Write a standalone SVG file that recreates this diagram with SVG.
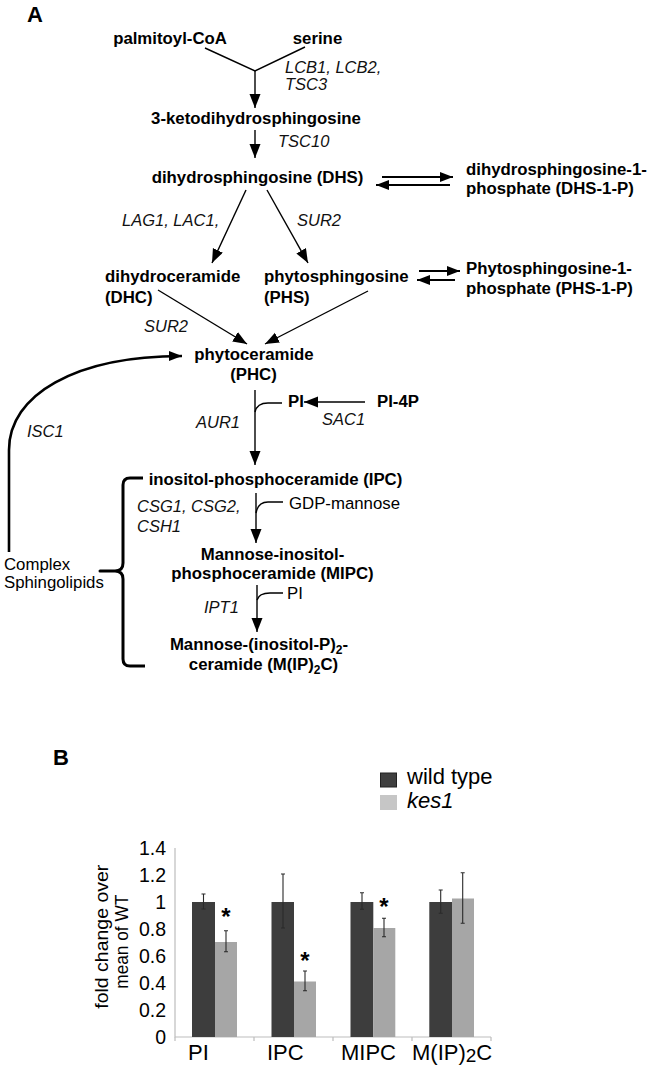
<svg xmlns="http://www.w3.org/2000/svg" width="652" height="1067" viewBox="0 0 652 1067">
<defs>
<style>
text{font-family:"Liberation Sans",Arial,Helvetica,sans-serif;fill:#000}
.b{font-weight:bold;font-size:16.8px}
.i{font-style:italic;font-size:16.5px;fill:#111}
.r{font-size:16.8px}
.hd{font-weight:bold;font-size:22px}
.ln{fill:none;stroke:#000;stroke-width:1.4}
.th{fill:none;stroke:#000;stroke-width:2}
.tick{font-size:19.5px;text-anchor:end}
.xl{font-size:22px}
.ast{font-weight:bold;font-size:24px;text-anchor:middle}
.eb{stroke:#2a2a2a;stroke-width:1.1;fill:none}
.wt{fill:#3d3d3d}
.ko{fill:#a6a6a6}
</style>
<marker id="ah" markerUnits="userSpaceOnUse" markerWidth="15" markerHeight="12" refX="14" refY="5.5" orient="auto">
<path d="M0,0 L14,5.5 L0,11 z" fill="#000"/>
</marker>
<marker id="ahs" markerUnits="userSpaceOnUse" markerWidth="14" markerHeight="11" refX="13" refY="5" orient="auto">
<path d="M0,0 L13,5 L0,10 z" fill="#000"/>
</marker>
</defs>
<rect width="652" height="1067" fill="#fff"/>

<text class="hd" x="27" y="22">A</text>

<g id="connectors">
<path class="ln" d="M205,48 L255,71 L305,47"/>
<path class="ln" d="M255,71 V108" marker-end="url(#ah)"/>
<path class="ln" d="M255,130 V158" marker-end="url(#ah)"/>
<path class="th" d="M382,177 H453" marker-end="url(#ahs)"/>
<path class="th" d="M450,185 H376" marker-end="url(#ahs)"/>
<path class="ln" d="M246,190 L212,263" marker-end="url(#ah)"/>
<path class="ln" d="M267,190 L308,263" marker-end="url(#ah)"/>
<path class="th" d="M419,271 H460" marker-end="url(#ahs)"/>
<path class="th" d="M455,280 H417" marker-end="url(#ahs)"/>
<path class="ln" d="M158,290 L247,344" marker-end="url(#ah)"/>
<path class="ln" d="M368,291 L265,344" marker-end="url(#ah)"/>
<path d="M9,552 V450 C9,395 75,356 182,356" fill="none" stroke="#000" stroke-width="2.6" marker-end="url(#ahs)"/>
<path class="ln" d="M255,390 V465" marker-end="url(#ah)"/>
<path class="ln" d="M255,412 Q257,403 268,403 H282"/>
<path class="ln" d="M365,402 H304" marker-end="url(#ah)"/>
<path class="ln" d="M256,493 V543" marker-end="url(#ah)"/>
<path class="ln" d="M256,513 Q258,502 268,502 H283"/>
<path class="ln" d="M257,585 V632" marker-end="url(#ah)"/>
<path class="ln" d="M257,600 Q259,593 270,593 H283"/>
<path d="M143,478 H130 Q123,478 123,485 V563 Q123,571 115,571 H100 H115 Q123,571 123,579 V659 Q123,666 130,666 H145" fill="none" stroke="#000" stroke-width="3" stroke-linejoin="round"/>
</g>

<g id="enzymes">
<text class="i" x="285" y="73">LCB1, LCB2,</text>
<text class="i" x="285" y="90">TSC3</text>
<text class="i" x="278" y="147">TSC10</text>
<text class="i" x="122" y="226">LAG1, LAC1,</text>
<text class="i" x="297" y="226">SUR2</text>
<text class="i" x="144" y="332">SUR2</text>
<text class="i" x="27" y="437">ISC1</text>
<text class="i" x="196" y="428">AUR1</text>
<text class="i" x="322" y="425">SAC1</text>
<text class="i" x="137" y="512">CSG1, CSG2,</text>
<text class="i" x="137" y="532">CSH1</text>
<text class="i" x="204" y="613">IPT1</text>
</g>

<g id="palmitoyl-coa"><text class="b" x="170" y="44" text-anchor="middle">palmitoyl-CoA</text></g>
<g id="serine"><text class="b" x="317.5" y="44" text-anchor="middle">serine</text></g>
<g id="ketodhs"><text class="b" x="256" y="124" text-anchor="middle">3-ketodihydrosphingosine</text></g>
<g id="dhs"><text class="b" x="257.5" y="183" text-anchor="middle">dihydrosphingosine (DHS)</text></g>
<g id="dhs1p">
<text class="b" x="466" y="175">dihydrosphingosine-1-</text>
<text class="b" x="466" y="194">phosphate (DHS-1-P)</text>
</g>
<g id="dhc">
<text class="b" x="105" y="282">dihydroceramide</text>
<text class="b" x="105" y="303">(DHC)</text>
</g>
<g id="phs">
<text class="b" x="264" y="282">phytosphingosine</text>
<text class="b" x="264" y="303">(PHS)</text>
</g>
<g id="phs1p">
<text class="b" x="466" y="274">Phytosphingosine-1-</text>
<text class="b" x="466" y="294">phosphate (PHS-1-P)</text>
</g>
<g id="phc">
<text class="b" x="254" y="360" text-anchor="middle">phytoceramide</text>
<text class="b" x="253.5" y="380" text-anchor="middle">(PHC)</text>
</g>
<g id="pi"><text class="b" x="288" y="407">PI</text></g>
<g id="pi4p"><text class="b" x="377" y="407">PI-4P</text></g>
<g id="ipc"><text class="b" x="275.5" y="485" text-anchor="middle">inositol-phosphoceramide (IPC)</text></g>
<g id="gdp-mannose"><text class="r" x="289" y="509">GDP-mannose</text></g>
<g id="mipc">
<text class="b" x="272.5" y="560" text-anchor="middle">Mannose-inositol-</text>
<text class="b" x="272.5" y="579" text-anchor="middle">phosphoceramide (MIPC)</text>
</g>
<g id="pi-2"><text class="r" x="287" y="599">PI</text></g>
<g id="mip2c">
<text class="b" x="259" y="650" text-anchor="middle">Mannose-(inositol-P)<tspan dy="4" font-size="12">2</tspan><tspan dy="-4">-</tspan></text>
<text class="b" x="263.5" y="670" text-anchor="middle">ceramide (M(IP)<tspan dy="4" font-size="12">2</tspan><tspan dy="-4">C)</tspan></text>
</g>
<g id="complex-sphingolipids">
<text class="r" x="4" y="570">Complex</text>
<text class="r" x="4" y="588">Sphingolipids</text>
</g>

<text class="hd" x="53" y="765">B</text>

<g id="legend">
<rect x="380.5" y="773" width="16" height="14" fill="#404040" stroke="#222" stroke-width="1"/>
<text x="407" y="784" font-size="22">wild type</text>
<rect x="380" y="795" width="17" height="15" fill="#c6c6c6"/>
<text x="407" y="807.5" font-size="22" font-style="italic">kes1</text>
</g>

<g id="chart">
<g id="axes" stroke="#bdbdbd" stroke-width="1.2" fill="none">
<path d="M175,848 V1037 H491"/>
<path d="M254,1037 v4 M333,1037 v4 M412,1037 v4 M491,1037 v4 M175,1037 v4"/>
</g>
<g id="yticks">
<text class="tick" x="166" y="855">1.4</text>
<text class="tick" x="166" y="882">1.2</text>
<text class="tick" x="166" y="909">1</text>
<text class="tick" x="166" y="936">0.8</text>
<text class="tick" x="166" y="963">0.6</text>
<text class="tick" x="166" y="990">0.4</text>
<text class="tick" x="166" y="1017">0.2</text>
<text class="tick" x="166" y="1044">0</text>
</g>
<g id="ytitle" font-size="19">
<text transform="translate(108,936.7) rotate(-90)" text-anchor="middle" textLength="144" lengthAdjust="spacingAndGlyphs">fold change over</text>
<text transform="translate(128,941.7) rotate(-90)" text-anchor="middle" textLength="94" lengthAdjust="spacingAndGlyphs">mean of WT</text>
</g>
<g id="bars">
<rect class="wt" x="192" y="902" width="23" height="135"/>
<rect class="ko" x="215" y="942" width="22" height="95"/>
<rect class="wt" x="271.5" y="902" width="22.5" height="135"/>
<rect class="ko" x="294" y="981.5" width="22" height="55.5"/>
<rect class="wt" x="350.5" y="902" width="22.8" height="135"/>
<rect class="ko" x="373.3" y="928" width="22" height="109"/>
<rect class="wt" x="429.3" y="902" width="22.7" height="135"/>
<rect class="ko" x="452" y="898.5" width="22" height="138.5"/>
</g>
<g id="errorbars" class="eb">
<path d="M203.5,894 V909 M201.5,894 h4 M201.5,909 h4"/>
<path d="M226,930.7 V951.7 M224,930.7 h4 M224,951.7 h4"/>
<path d="M283,874 V928 M281,874 h4 M281,928 h4"/>
<path d="M305,971 V990.7 M303,971 h4 M303,990.7 h4"/>
<path d="M362,892.7 V909.3 M360,892.7 h4 M360,909.3 h4"/>
<path d="M384,918.3 V936.7 M382,918.3 h4 M382,936.7 h4"/>
<path d="M440.7,890 V913.3 M438.7,890 h4 M438.7,913.3 h4"/>
<path d="M462.7,872.7 V923.3 M460.7,872.7 h4 M460.7,923.3 h4"/>
</g>
<g id="asterisks">
<text class="ast" x="226" y="925">*</text>
<text class="ast" x="305" y="969">*</text>
<text class="ast" x="384" y="914.5">*</text>
</g>
<g id="xlabels">
<text class="xl" x="188" y="1060">PI</text>
<text class="xl" x="267" y="1060">IPC</text>
<text class="xl" x="341" y="1060">MIPC</text>
<text class="xl" x="412" y="1060">M(IP)<tspan dy="2" font-size="19">2</tspan><tspan dy="-2">C</tspan></text>
</g>
</g>
</svg>
